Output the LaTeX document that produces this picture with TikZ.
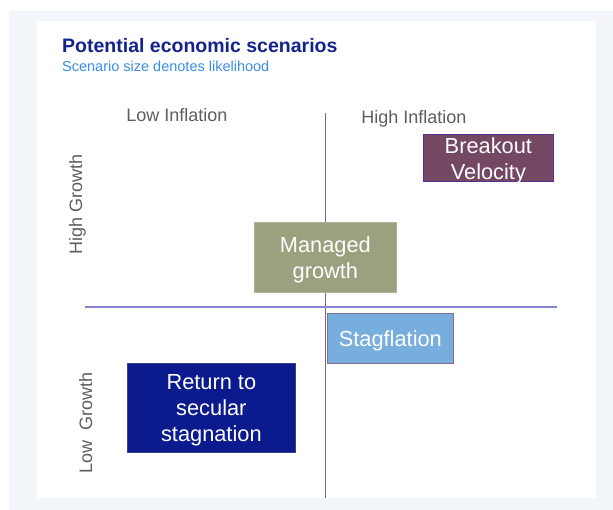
\documentclass[tikz,border=0pt]{standalone}
\usepackage{fontspec}
\setmainfont{Liberation Sans}
\definecolor{panelbg}{HTML}{F2F6FB}
\definecolor{titleblue}{HTML}{14238C}
\definecolor{subblue}{HTML}{3B8EE6}
\definecolor{axisgrey}{HTML}{5E5E5E}
\definecolor{vline}{HTML}{85607A}
\definecolor{hline}{HTML}{8585D0}
\definecolor{plum}{HTML}{744863}
\definecolor{olive}{HTML}{9BA07F}
\definecolor{sky}{HTML}{78AEDD}
\definecolor{navy}{HTML}{0B1A8D}
\tikzset{
  scenario/.style={anchor=north west, inner sep=0pt, line width=0.7pt},
  scenariotext/.style={inner sep=0pt, align=center, text=white,
    font=\fontsize{21.8}{26}\selectfont},
  axislabel/.style={text=axisgrey, inner sep=0pt,
    font=\fontsize{18}{20}\selectfont},
}
\begin{document}
\begin{tikzpicture}[x=1pt, y=-1pt]
  % canvas and panels
  \useasboundingbox (0,0) rectangle (613,510);
  \fill[white] (0,0) rectangle (613,510);
  \fill[panelbg] (9,11) rectangle (613,510);
  \fill[white] (37,21) rectangle (596,498);

  % heading
  \node[anchor=base west, inner sep=0pt, text=titleblue,
        font=\fontsize{19.5}{22}\selectfont\bfseries] (title) at (62,53)
        {Potential economic scenarios};
  \node[anchor=base west, inner sep=0pt, text=subblue,
        font=\fontsize{14.5}{16}\selectfont] (subtitle) at (62,72)
        {Scenario size denotes likelihood};

  % axes
  \coordinate (vtop) at (325,113);
  \coordinate (vbot) at (325,498);
  \coordinate (hleft) at (85,307);
  \coordinate (hright) at (557,307);
  \draw[vline, line width=0.9pt] (vtop) -- (vbot);
  \draw[hline, line width=1.2pt] (hleft) -- (hright);

  % axis labels
  \node[axislabel, anchor=base] (lowinf) at (177,122) {Low Inflation};
  \node[axislabel, anchor=base] (highinf) at (414,124) {High Inflation};
  \node[axislabel, anchor=base, rotate=90] (highgr) at (82,204) {High Growth};
  \node[axislabel, anchor=base, rotate=90] (lowgr) at (92,423) {Low\ \ Growth};

  % scenario boxes
  \node[scenario, fill=plum, draw=plum!70!blue,
        minimum width=130pt, minimum height=47pt] (breakout) at (423,134) {};
  \node[scenario, fill=olive, draw=olive!80!white,
        minimum width=142pt, minimum height=70pt] (managed) at (254,222) {};
  \node[scenario, fill=sky, draw=vline!80!sky,
        minimum width=126pt, minimum height=50pt] (stag) at (327,313) {};
  \node[scenario, fill=navy, draw=navy!60!gray,
        minimum width=168pt, minimum height=89pt] (secular) at (127,363) {};

  % scenario names, set a little below the box centres
  \node[scenariotext] (breakout-name) at ([yshift=-3pt]breakout.center)
        {Breakout\\Velocity};
  \node[scenariotext] (managed-name) at ([yshift=-2.5pt]managed.center)
        {Managed\\growth};
  \node[scenariotext] (stag-name) at ([yshift=-3pt]stag.center)
        {Stagflation};
  \node[scenariotext] (secular-name) at ([yshift=-2.5pt]secular.center)
        {Return to\\secular\\stagnation};
\end{tikzpicture}
\end{document}
